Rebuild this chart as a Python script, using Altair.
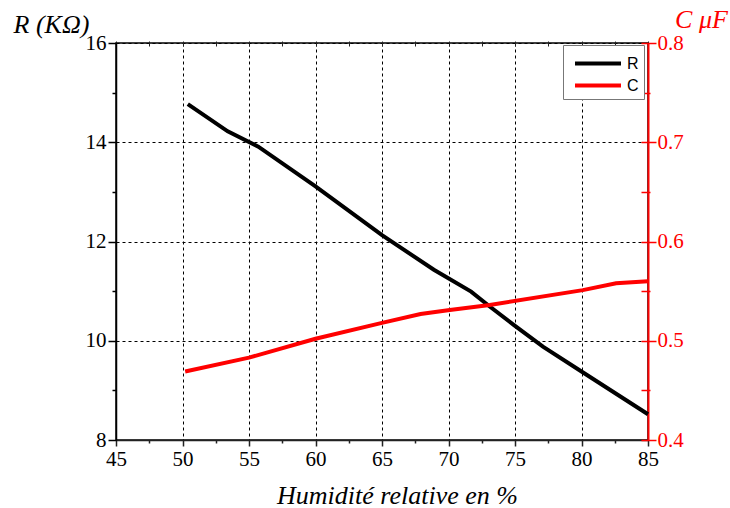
import altair as alt
import pandas as pd

hum_R = [50.4, 53.4, 55.7, 60.0, 65.0, 68.9, 71.7, 73.1, 74.9, 77.1, 80.0, 85.0]
R_vals = [14.77, 14.22, 13.91, 13.11, 12.13, 11.43, 10.99, 10.69, 10.32, 9.88, 9.38, 8.52]
hum_C = [50.2, 55.0, 60.0, 65.0, 67.9, 70.1, 73.1, 80.1, 82.6, 85.0]
C_vals = [0.469, 0.483, 0.502, 0.518, 0.527, 0.531, 0.536, 0.551, 0.558, 0.560]

x_ticks = [45 + 2.5 * i for i in range(17)]
r_ticks = list(range(8, 17))
c_major = [0.4, 0.5, 0.6, 0.7, 0.8]
c_ticks = [round(0.4 + 0.05 * i, 2) for i in range(9)]

SERIF = "Liberation Serif"
SANS = "Liberation Sans"
SERIF_COND = {"condition": {"test": "true", "value": SERIF}, "value": SERIF}

dfR = pd.DataFrame({"h": hum_R, "v": R_vals, "s": "R"})
dfC = pd.DataFrame({"h": hum_C, "v": C_vals, "s": "C"})

xscale = alt.Scale(domain=[45, 85], nice=False, zero=False)
rscale = alt.Scale(domain=[8, 16], nice=False, zero=False)
cscale = alt.Scale(domain=[0.4, 0.8], nice=False, zero=False)

color = alt.Color(
    "s:N",
    scale=alt.Scale(domain=["R", "C"], range=["#000000", "#ff0000"]),
    legend=alt.Legend(
        title=None, orient="none", legendX=447, legendY=2,
        symbolType="M-1,0H3", symbolSize=529, symbolStrokeWidth=4, symbolOffset=5,
        labelFont=SANS, labelFontSize=16, labelColor="black", labelOffset=27,
        labelExpr="datum.label + '\u00a0\u00a0'",
        strokeColor="#777777", fillColor="white", padding=5, rowPadding=0,
    ),
)

x_bottom = alt.Axis(
    orient="bottom", values=x_ticks, labelFlush=False,
    labelExpr="datum.value % 5 === 0 ? datum.label : ''",
    tickSize={"condition": {"test": "datum.value % 5 === 0", "value": 6}, "value": 3},
    gridOpacity={"condition": {"test": "datum.value % 5 === 0", "value": 1}, "value": 0},
    grid=True, gridColor="black", gridDash=[3, 3], gridWidth=1,
    domainColor="#222222", domainWidth=1.5, tickColor="#222222", tickWidth=1.5,
    labelFont=SERIF_COND, labelFontSize=21, labelColor="black", labelPadding=2,
    title="Humidité relative en %", titleFont=SERIF, titleFontSize=26,
    titleFontStyle="italic", titleFontWeight="normal", titleColor="black",
    titleX=281, titleY=63, titleAlign="center", titleBaseline="alphabetic",
)

y_left = alt.Axis(
    orient="left", values=r_ticks, labelFlush=False,
    labelExpr="datum.value % 2 === 0 ? datum.label : ''",
    tickSize={"condition": {"test": "datum.value % 2 === 0", "value": 8}, "value": 4},
    gridOpacity={"condition": {"test": "datum.value % 2 === 0", "value": 1}, "value": 0},
    grid=True, gridColor="black", gridDash=[3, 3], gridWidth=1,
    domainColor="black", domainWidth=1.5, tickColor="black", tickWidth=1.5,
    labelFont=alt.ExprRef(expr="'Liberation Serif'"), labelFontSize=21,
    labelColor="black", labelPadding=2,
    title="R (KΩ)", titleFont=SERIF, titleFontSize=26, titleFontStyle="italic",
    titleFontWeight="normal", titleColor="black", titleAngle=0,
    titleX=-65, titleY=-11, titleAlign="center", titleBaseline="alphabetic",
)

x_top = alt.Axis(
    orient="top", values=x_ticks, labels=False, domain=False, grid=False,
    tickSize=5, offset=-3, tickColor="#222222", tickWidth=1, title=None,
)

y_right = alt.Axis(
    orient="right", values=c_major, format=".1f", ticks=False, grid=False,
    labelFlush=False,
    domainColor="#ff0000", domainWidth=2,
    labelFont=SERIF_COND, labelFontSize=21, labelColor="#ff0000", labelPadding=9,
    title="C μF", titleFont=SERIF, titleFontSize=26, titleFontStyle="italic",
    titleFontWeight="normal", titleColor="#ff0000", titleAngle=0,
    titleX=53, titleY=-16, titleAlign="center", titleBaseline="alphabetic",
)

y_right_ticks = alt.Axis(
    orient="right", values=c_ticks, labels=False, domain=False, grid=False,
    offset=-7,
    tickSize={"condition": {"test": "round(datum.value * 100) % 10 === 0", "value": 15}, "value": 9},
    tickColor="#ff0000", tickWidth=1.5, title=None,
)

lineR = alt.Chart(dfR).mark_line(strokeWidth=4).encode(
    x=alt.X("h:Q", scale=xscale, axis=x_bottom),
    y=alt.Y("v:Q", scale=rscale, axis=y_left),
    color=color,
)

lineC = alt.Chart(dfC).mark_line(strokeWidth=4).encode(
    x=alt.X("h:Q", scale=xscale, axis=x_top),
    y=alt.Y("v:Q", scale=cscale, axis=y_right),
    color=color,
)

ticksC = alt.Chart(dfC).mark_line(opacity=0).encode(
    x=alt.X("h:Q", scale=xscale, axis=None),
    y=alt.Y("v:Q", scale=cscale, axis=y_right_ticks),
)

chart = (
    alt.layer(lineR, lineC, ticksC)
    .resolve_scale(y="independent")
    .resolve_axis(x="independent", y="independent")
    .properties(
        width=532, height=397, autosize="none",
        padding={"left": 116, "top": 43, "right": 82, "bottom": 68},
        background="white",
    )
    .configure_view(stroke="black", strokeWidth=1.5)
)

chart.save("out.html", embed_options={"renderer": "svg", "actions": False})
